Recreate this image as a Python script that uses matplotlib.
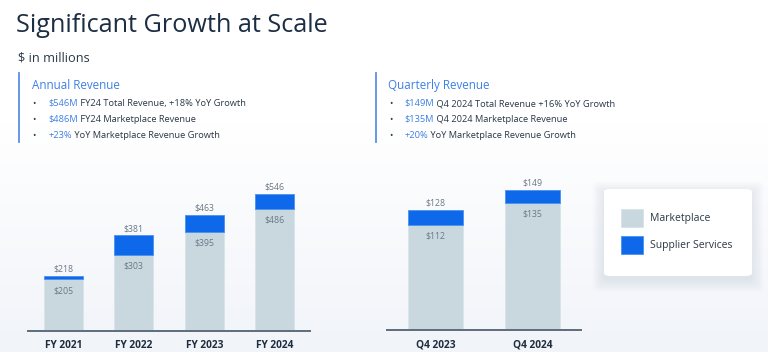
import numpy as np
import matplotlib
matplotlib.use("Agg")
import matplotlib.pyplot as plt
from matplotlib.patches import FancyBboxPatch
from matplotlib.lines import Line2D

# data
annual_labels = ['FY 2021', 'FY 2022', 'FY 2023', 'FY 2024']
annual_marketplace = [205, 303, 395, 486]
annual_total = [218, 381, 463, 546]

quarter_labels = ['Q4 2023', 'Q4 2024']
quarter_marketplace = [112, 135]
quarter_total = [128, 149]

annual_notes = [('$546M', ' FY24 Total Revenue, +18% YoY Growth'),
                ('$486M', ' FY24 Marketplace Revenue'),
                ('+23%', ' YoY Marketplace Revenue Growth')]
quarter_notes = [('$149M', ' Q4 2024 Total Revenue +16% YoY Growth'),
                 ('$135M', ' Q4 2024 Marketplace Revenue'),
                 ('+20%', ' YoY Marketplace Revenue Growth')]

MKT = '#c9d7df'
SUP = '#0d69e9'
BLUE = '#3d80e6'
DARK = '#2b3846'
GREY = '#6b7886'

plt.rcParams['font.family'] = ['Open Sans', 'DejaVu Sans']

W, H = 768, 352
fig = plt.figure(figsize=(W / 100, H / 100), dpi=100)


def px(x, y):
    return x / W, 1 - y / H


# soft background gradient
bg = fig.add_axes([0, 0, 1, 1], zorder=-10)
t = np.clip((np.linspace(0, 1, 200) - 0.35) / 0.65, 0, 1)
top = np.array([1.0, 1.0, 1.0])
bot = np.array([0xf1, 0xf4, 0xf9]) / 255
grad = top[None, :] * (1 - t[:, None]) + bot[None, :] * t[:, None]
bg.imshow(grad[:, None, :], aspect='auto', extent=[0, 1, 0, 1])
bg.axis('off')

# header
fig.text(*px(16, 32), 'Significant Growth at Scale', fontsize=18.2, color='#1c2e44', va='baseline')
fig.text(*px(18, 61), '$ in millions', fontsize=9.2, color=DARK, va='baseline')


def note_block(x_line, x_head, x_bullet, x_text, title, notes):
    fig.add_artist(Line2D([x_line / W] * 2, [1 - 73 / H, 1 - 142 / H], color='#5b8fe6', lw=1.3))
    fig.text(*px(x_head, 89), title, fontsize=8.4, color=BLUE, va='baseline')
    for (hi, rest), yb in zip(notes, [106, 121.7, 137.7]):
        fig.text(*px(x_bullet, yb + 0.5), '•', fontsize=6.5, color=DARK, va='baseline')
        first = fig.text(*px(x_text, yb), hi, fontsize=6.7, color=BLUE, va='baseline')
        plt.annotate(rest, xy=(1, 0), xycoords=first, fontsize=6.7, color=DARK,
                     va='bottom', ha='left', annotation_clip=False)


note_block(19, 32.3, 32.5, 48.3, 'Annual Revenue', annual_notes)
note_block(375.7, 388.3, 389.5, 404.3, 'Quarterly Revenue', quarter_notes)


def stacked(ax, labels, mkt, total, width):
    sup = [tt - m for tt, m in zip(total, mkt)]
    b1 = ax.bar(labels, mkt, width=width, color=MKT, edgecolor='#d8e3ea', linewidth=0.6)
    b2 = ax.bar(labels, sup, bottom=mkt, width=width, color=SUP, edgecolor='#4a90f0', linewidth=0.6)
    for i, (m, tt) in enumerate(zip(mkt, total)):
        ax.annotate(f'${tt}', (i, tt), xytext=(0, 5), textcoords='offset points',
                    ha='center', va='center', fontsize=6.3, color=GREY)
        ax.annotate(f'${m}', (i, m), xytext=(0, -8), textcoords='offset points',
                    ha='center', va='center', fontsize=6.3, color=GREY)
    for s in ['top', 'right', 'left']:
        ax.spines[s].set_visible(False)
    ax.spines['bottom'].set_color('#5d6d7c')
    ax.spines['bottom'].set_linewidth(1.4)
    ax.set_yticks([])
    ax.tick_params(axis='x', length=0, pad=7, labelsize=7.3, labelcolor='#1f2d3d')
    for lab in ax.get_xticklabels():
        lab.set_fontweight('bold')
    ax.set_facecolor('none')
    return b1, b2


ax1 = fig.add_axes([28 / W, 21.3 / H, 282 / W, 160.7 / H])
stacked(ax1, annual_labels, annual_marketplace, annual_total, 0.553)
ax1.set_xlim(-0.5, 3.5)
ax1.set_ylim(0, 643)

ax2 = fig.add_axes([387 / W, 22 / H, 194 / W, 160 / H])
h1, h2 = stacked(ax2, quarter_labels, quarter_marketplace, quarter_total, 0.567)
ax2.set_xlim(-0.5, 1.5)
ax2.set_ylim(0, 170)

# legend card with a soft shadow
for k in range(8):
    g = 1 + k * 1.6
    fig.add_artist(FancyBboxPatch(px(604 - g + 1, 276 + g + 3), (148 + 2 * g - 2) / W, (87 + 2 * g - 2) / H,
                                  boxstyle='round,pad=0,rounding_size=0.01', transform=fig.transFigure,
                                  facecolor='#8a9bb0', edgecolor='none', alpha=0.022, zorder=3))
fig.add_artist(FancyBboxPatch(px(604, 276), 148 / W, 87 / H,
                              boxstyle='round,pad=0,rounding_size=0.008', transform=fig.transFigure,
                              facecolor='white', edgecolor='none', zorder=4))

fs = 7.5
fpx = fs * 100 / 72
hh = (18 / fpx - 0.245) / 0.65
leg = fig.legend([h1, h2], ['Marketplace', 'Supplier Services'], loc='upper left',
                 bbox_to_anchor=px(621, 209), borderaxespad=0, borderpad=0, fontsize=fs,
                 handlelength=22 / fpx, handleheight=hh, handletextpad=7 / fpx,
                 labelspacing=9 / fpx, frameon=False)
leg.set_zorder(5)
for txt in leg.get_texts():
    txt.set_color(DARK)

fig.savefig('out.png', dpi=100)
